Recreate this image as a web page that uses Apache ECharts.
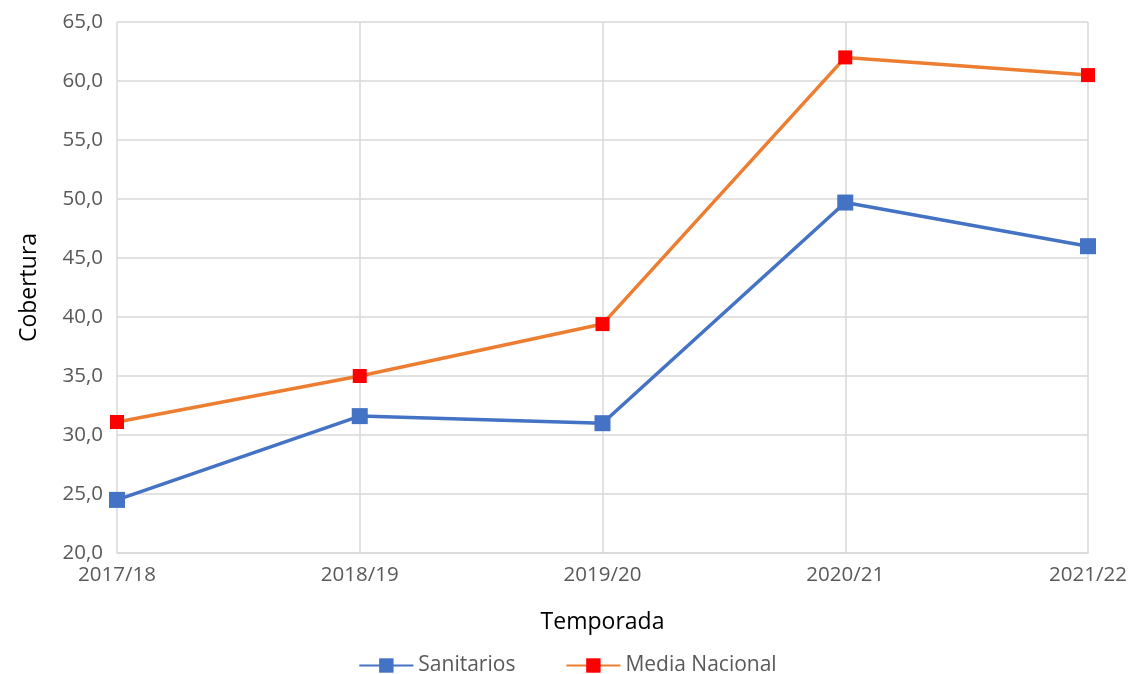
<!DOCTYPE html>
<html>
<head>
<meta charset="utf-8">
<script src="https://cdn.jsdelivr.net/npm/echarts@6/dist/echarts.min.js"></script>
<style>
  html, body { margin: 0; padding: 0; background: #fff; }
  #chart { width: 1135px; height: 674px; }
</style>
</head>
<body>
<div id="chart"></div>
<script>
var temporadas = ['2017/18', '2018/19', '2019/20', '2020/21', '2021/22'];
var sanitarios = [24.5, 31.6, 31.0, 49.7, 46.0];
var mediaNacional = [31.1, 35.0, 39.4, 62.0, 60.5];

var chart = echarts.init(document.getElementById('chart'));

var fuente = '"Open Sans", "Noto Sans", sans-serif';

var option = {
    animation: false,
    textStyle: { fontFamily: fuente },
    grid: { left: 117, right: 47, top: 22, bottom: 121 },
    legend: {
        top: 650,
        left: 'center',
        itemGap: 50,
        itemWidth: 54,
        itemHeight: 18,
        textStyle: { fontSize: 21, color: '#595959', fontFamily: fuente },
        data: ['Sanitarios', 'Media Nacional']
    },
    xAxis: {
        type: 'category',
        data: temporadas,
        boundaryGap: false,
        name: 'Temporada',
        nameLocation: 'middle',
        nameGap: 58,
        nameTextStyle: { fontSize: 23, color: '#000', fontFamily: fuente },
        axisLine: { lineStyle: { color: '#d9d9d9', width: 1.5 } },
        axisTick: { show: false },
        axisLabel: { fontSize: 20.5, color: '#595959', margin: 12, fontFamily: fuente },
        splitLine: { show: true, lineStyle: { color: '#d9d9d9', width: 1.5 } }
    },
    yAxis: {
        type: 'value',
        min: 20,
        max: 65,
        interval: 5,
        name: 'Cobertura',
        nameLocation: 'middle',
        nameGap: 76,
        nameTextStyle: { fontSize: 23, color: '#000', fontFamily: fuente },
        axisLine: { show: false },
        axisTick: { show: false },
        axisLabel: {
            fontSize: 20.5,
            color: '#595959',
            margin: 14,
            fontFamily: fuente,
            formatter: function (v) { return v.toFixed(1).replace('.', ','); }
        },
        splitLine: { lineStyle: { color: '#d9d9d9', width: 1.5 } }
    },
    series: [{
        name: 'Sanitarios',
        type: 'line',
        data: sanitarios,
        symbol: 'rect',
        symbolSize: 16,
        lineStyle: { color: '#4472c4', width: 3.5 },
        itemStyle: { color: '#4472c4' }
    }, {
        name: 'Media Nacional',
        type: 'line',
        data: mediaNacional,
        symbol: 'rect',
        symbolSize: 14,
        lineStyle: { color: '#ed7d31', width: 3.5 },
        itemStyle: { color: '#ff0000' }
    }]
};

chart.setOption(option);
</script>
</body>
</html>
